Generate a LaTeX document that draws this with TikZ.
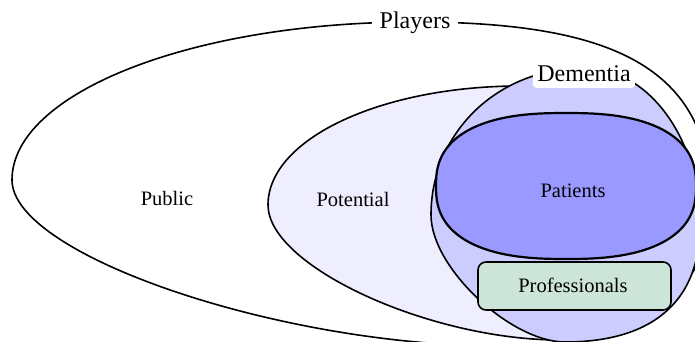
\documentclass[tikz,border=0pt]{standalone}
\usepackage{fontspec}
\setmainfont{Liberation Serif}
\definecolor{potfill}{HTML}{EEEEFF}
\definecolor{demfill}{HTML}{CCCCFF}
\definecolor{patfill}{HTML}{9999FF}
\definecolor{profill}{HTML}{CDE5D9}
\begin{document}
\begin{tikzpicture}[x=1pt,y=-1pt,
  setline/.style={draw=black,line width=1.6pt},
  title/.style={font=\fontsize{24}{28}\selectfont,anchor=base},
  inner label/.style={font=\fontsize{20.5}{24}\selectfont,anchor=base}]
\useasboundingbox (0,0) rectangle (695,342);
\clip (0,0) rectangle (695,342);

% outer set: players (egg shape, blunt on the right)
\draw[setline,fill=white]
  (12,180) .. controls (12,93) and (192,22) .. (415,22)
           .. controls (632,22) and (712,78) .. (712,210)
           .. controls (712,292) and (627,346) .. (500,346)
           .. controls (280,346) and (12,255) .. cycle;

% potential
\draw[setline,fill=potfill]
  (268,205) .. controls (268,139) and (381,86) .. (520,86)
            .. controls (600,86) and (640,150) .. (640,210)
            .. controls (640,290) and (600,340) .. (560,340)
            .. controls (429,340) and (268,266) .. cycle;

% dementia
\draw[setline,fill=demfill]
  (431,215) .. controls (431,135) and (495,68) .. (585,68)
            .. controls (648,68) and (700,138) .. (700,225)
            .. controls (700,301) and (653,342) .. (565,342)
            .. controls (511,342) and (431,268) .. cycle;

% patients (superellipse, exponent 2.5)
\draw[line width=2.2pt,fill=patfill] plot[domain=1.5:358.5,samples=120,variable=\t]
  ({566+130*sign(cos(\t))*abs(cos(\t))^(0.8)},
   {186+73*sign(sin(\t))*abs(sin(\t))^(0.8)}) -- cycle;

% professionals
\node[draw=black,line width=1.6pt,fill=profill,rounded corners=8pt,
  minimum width=193pt,minimum height=48pt,inner sep=0pt] (probox) at (574.5,286) {};

% labels
\node[title,fill=white,inner xsep=8pt,inner ysep=1pt] (players) at (415,29) {Players};
\node[title,fill=white,rounded corners=4pt,inner xsep=4.5pt,inner ysep=3pt,
  text height=16pt,text depth=3pt] (dementia) at (584,82) {Dementia};
\node[inner label] (public) at (167,205) {Public};
\node[inner label] (potential) at (353,206) {Potential};
\node[inner label] (patients) at (573,197) {Patients};
\node[inner label] (professionals) at (573,292) {Professionals};
\end{tikzpicture}
\end{document}
